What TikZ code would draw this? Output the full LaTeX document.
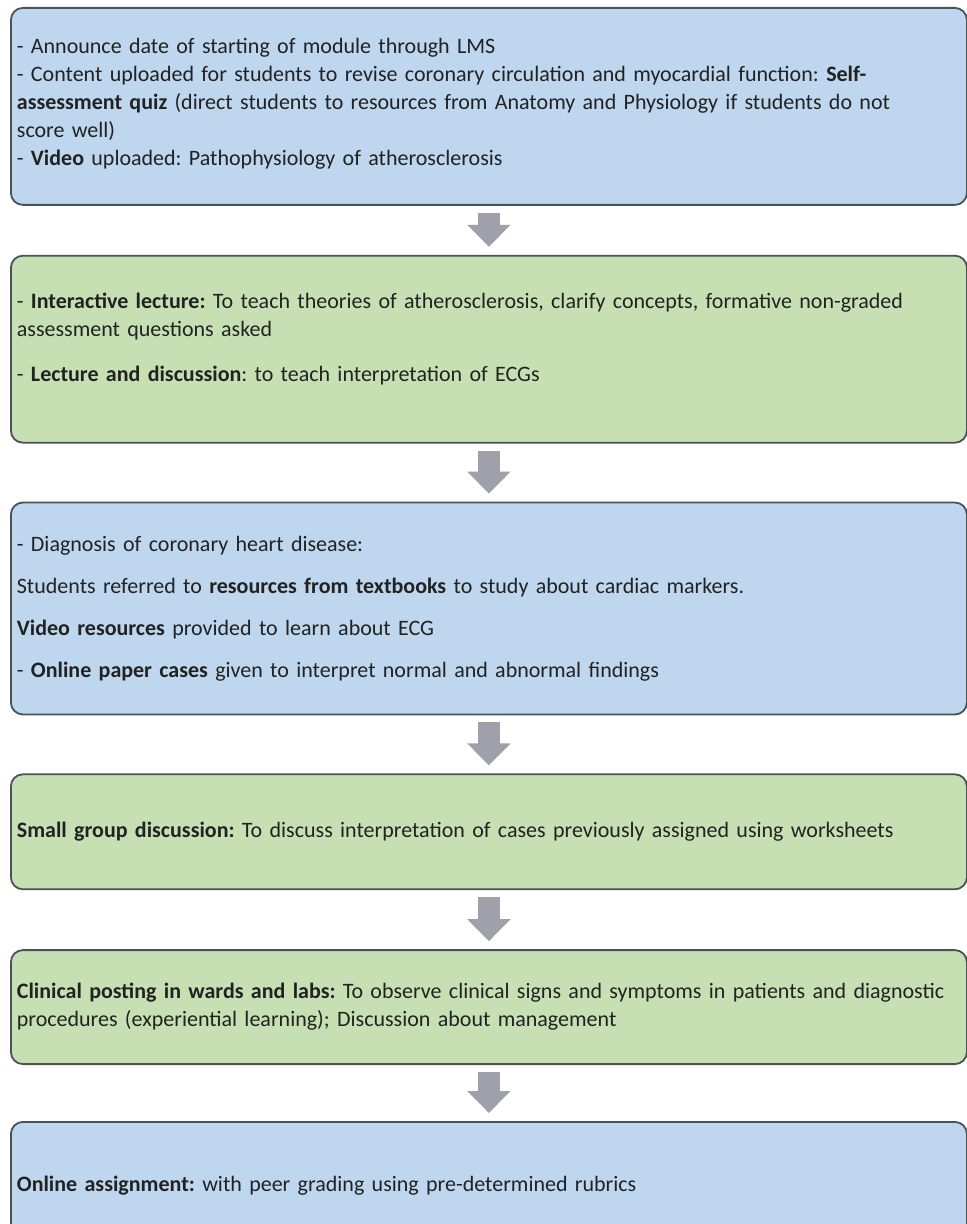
\documentclass[tikz,border=0pt]{standalone}
\usepackage{fontspec}
\setmainfont{Carlito}
\usepackage{tikz}
\usetikzlibrary{positioning, arrows.meta}

\definecolor{boxblue}{RGB}{190,214,238}
\definecolor{boxgreen}{RGB}{198,224,180}
\definecolor{boxline}{RGB}{72,82,88}
\definecolor{arrowgray}{RGB}{160,160,170}
\definecolor{textgray}{RGB}{34,34,34}
\frenchspacing

\begin{document}
\begin{tikzpicture}[
	stage/.style={draw=boxline, line width=0.9pt, rounded corners=6pt, minimum width=478pt, text width=472pt, inner xsep=3pt, inner ysep=0pt, align=left, text=textgray, font=\fontsize{11pt}{14pt}\selectfont},
	bluestage/.style={stage, fill=boxblue},
	greenstage/.style={stage, fill=boxgreen},
	flowarrow/.style={draw=arrowgray, line width=11pt, -{Triangle[width=21pt, length=11pt]}, shorten <=3.5pt, shorten >=4pt}
]
	\useasboundingbox (0,0) rectangle (483pt,-612pt);
	
	\node[bluestage, anchor=north west, minimum height=98.5pt] (announce) at (5pt,-3.5pt) {%
		- Announce date of starting of module through LMS\\
		- Content uploaded for students to revise coronary circulation and myocardial function: \textbf{Self-}\\
		\textbf{assessment quiz} (direct students to resources from Anatomy and Physiology if students do not\\
		score well)\\
		- \textbf{Video} uploaded: Pathophysiology of atherosclerosis\rule[-5pt]{0pt}{0pt}};
	\node[greenstage, below=24.5pt of announce, minimum height=93.5pt] (lecture) {%
		- \textbf{Interactive lecture:} To teach theories of atherosclerosis, clarify concepts, formative non-graded\\
		assessment questions asked\\[8.5pt]
		- \textbf{Lecture and discussion}: to teach interpretation of ECGs\rule[-12pt]{0pt}{0pt}};
	\node[bluestage, below=29pt of lecture, minimum height=106pt] (diagnosis) {%
		- Diagnosis of coronary heart disease:\\[7pt]
		Students referred to \textbf{resources from textbooks} to study about cardiac markers.\\[7pt]
		\textbf{Video resources} provided to learn about ECG\\[7pt]
		- \textbf{Online paper cases} given to interpret normal and abnormal findings};
	\node[greenstage, below=29pt of diagnosis, minimum height=57.5pt] (groupwork) {%
		\textbf{Small group discussion:} To discuss interpretation of cases previously assigned using worksheets};
	\node[greenstage, below=29.5pt of groupwork, minimum height=57pt] (clinical) {%
		\mbox{\textbf{Clinical posting in wards and labs:} To observe clinical signs and symptoms in patients and diagnostic}\\
		procedures (experiential learning); Discussion about management};
	\node[bluestage, below=28pt of clinical, minimum height=64pt] (assignment) {%
		\textbf{Online assignment:} with peer grading using pre-determined rubrics};
	
	% arrows between the stages
	\draw[flowarrow] (announce) -- (lecture);
	\draw[flowarrow] (lecture) -- (diagnosis);
	\draw[flowarrow] (diagnosis) -- (groupwork);
	\draw[flowarrow] (groupwork) -- (clinical);
	\draw[flowarrow] (clinical) -- (assignment);
\end{tikzpicture}
\end{document}
